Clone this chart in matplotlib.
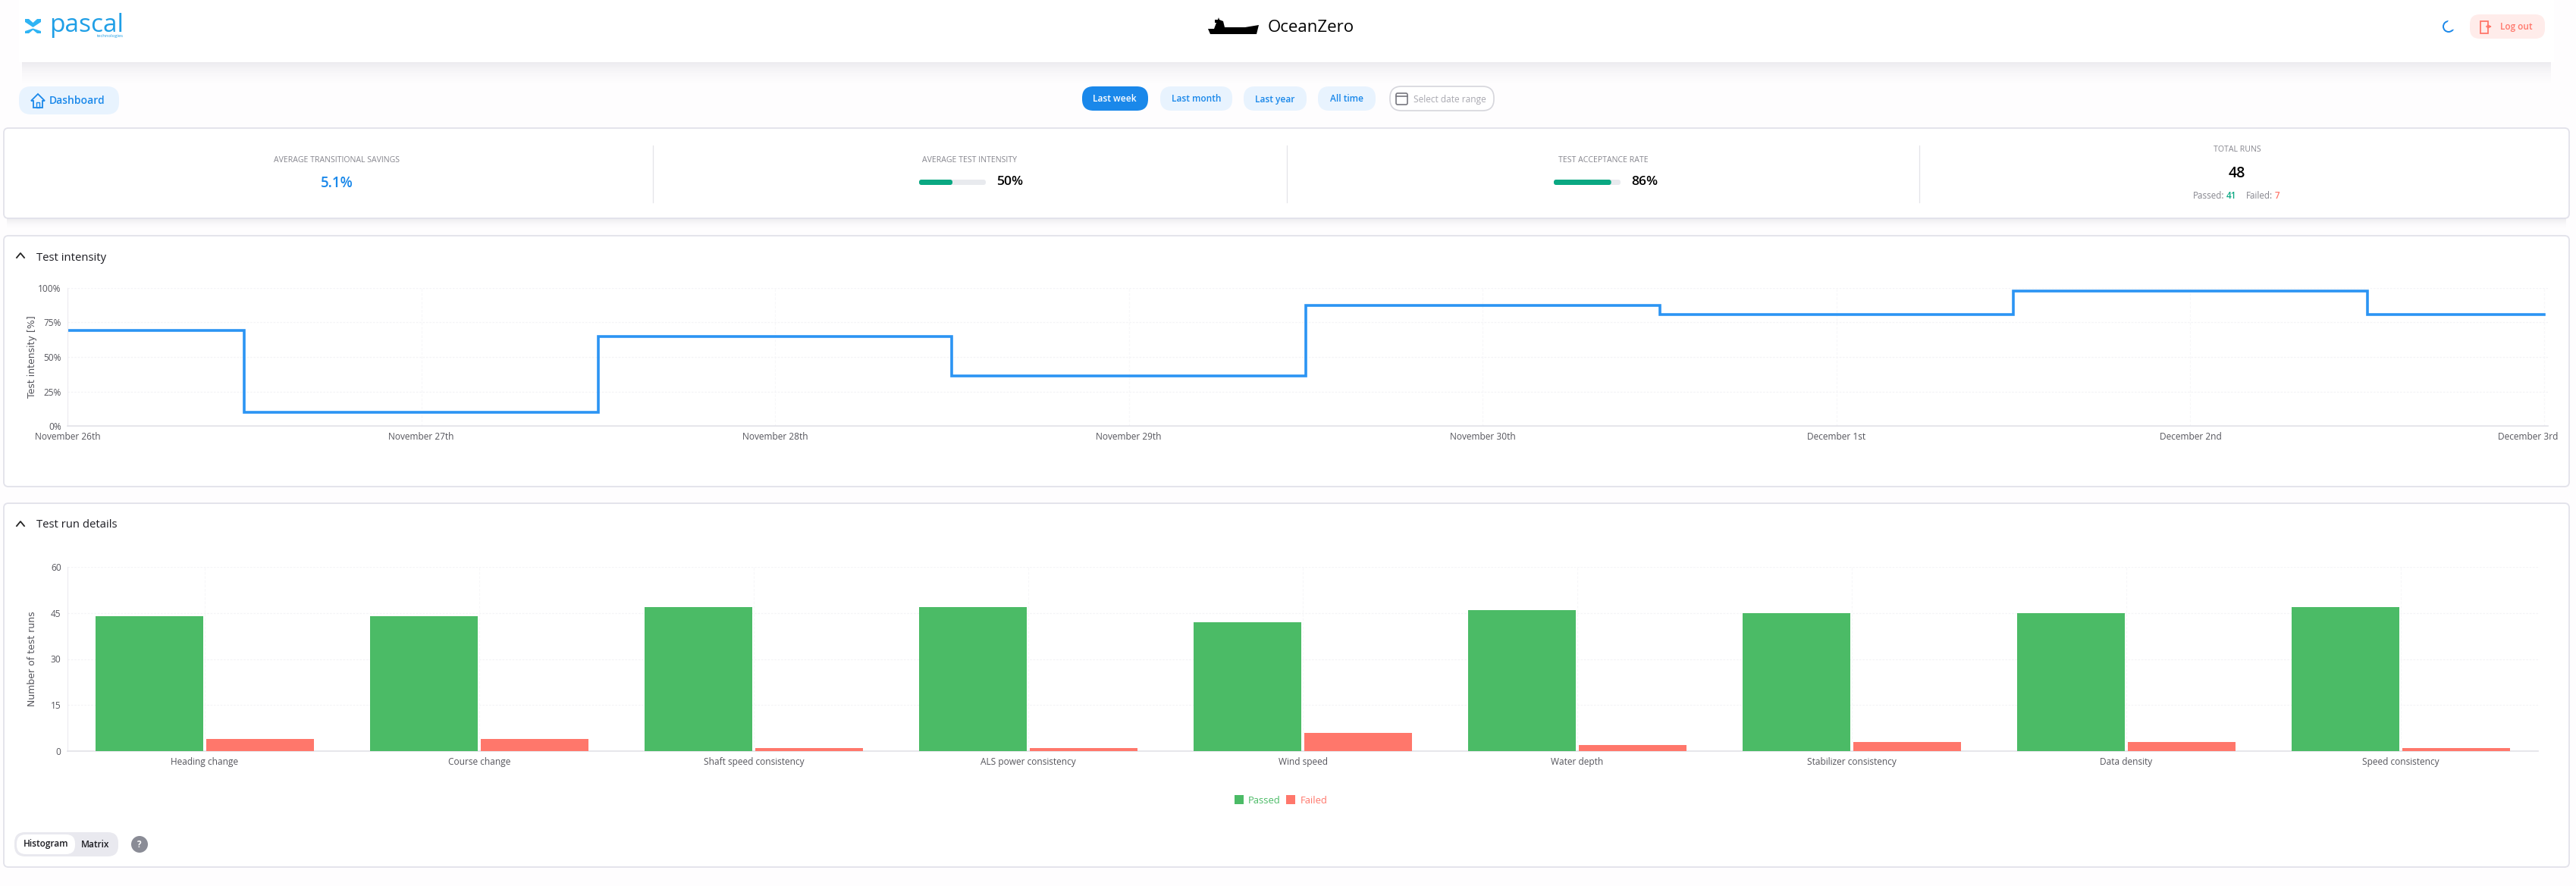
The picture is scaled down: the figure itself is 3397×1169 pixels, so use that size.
#!/usr/bin/env python3
"""OceanZero test dashboard: KPI row, test intensity step line, test run histogram."""

import matplotlib
matplotlib.use("Agg")
import matplotlib.pyplot as plt
from matplotlib.patches import Circle, FancyBboxPatch, Polygon, Rectangle
from matplotlib.transforms import ScaledTranslation

plt.rcParams["font.family"] = ["Open Sans", "DejaVu Sans"]

# Test intensity chart
days = ["November 26th", "November 27th", "November 28th", "November 29th",
        "November 30th", "December 1st", "December 2nd", "December 3rd"]
intensity = [69, 10, 65, 36, 87.5, 81, 98, 81]
intensity_ticks = [0, 25, 50, 75, 100]

# Test run chart
checks = ["Heading change", "Course change", "Shaft speed consistency",
          "ALS power consistency", "Wind speed", "Water depth",
          "Stabilizer consistency", "Data density", "Speed consistency"]
passed = [44, 44, 47, 47, 42, 46, 45, 45, 47]
failed = [4, 4, 1, 1, 6, 2, 3, 3, 1]
runs_ticks = [0, 15, 30, 45, 60]

# KPI values
avg_intensity = 50
acceptance_rate = 86

W, H = 3397, 1169
BG = "#fefdfe"
BLUE = "#1a88ea"
PALE_BLUE = "#e8f3fe"
TEAL = "#0aa882"
GREEN = "#4bbb66"
RED = "#ff776b"
LINE_BLUE = "#2b94f3"
BORDER = "#e2e2ea"
GRID = "#f4f4f7"
GREY = "#85858d"
TICK = "#55555c"

fig = plt.figure(figsize=(W / 100, H / 100), dpi=100, facecolor=BG)

# overlay in pixel coordinates for the page furniture
page = fig.add_axes([0, 0, 1, 1], zorder=0)
page.set_xlim(0, W)
page.set_ylim(H, 0)
page.axis("off")


def pill(x0, y0, x1, y1, r=None, fc="white", ec="none", lw=1.0, z=2):
    r = (y1 - y0) / 2 if r is None else r
    page.add_patch(FancyBboxPatch((x0 + r, y0 + r), x1 - x0 - 2 * r, y1 - y0 - 2 * r,
                                  boxstyle=f"round,pad={r},rounding_size={r}",
                                  fc=fc, ec=ec, lw=lw, zorder=z))


def shadow(x0, x1, y, depth, strength=0.10):
    # soft shadow under a card, stacked thin strips
    for i in range(depth):
        alpha = strength * (1 - i / depth) ** 2
        page.add_patch(Rectangle((x0 + 4, y + i), x1 - x0 - 8, 1, fc="#50506e",
                                 ec="none", alpha=alpha, zorder=1))


def label(x, y, s, size=8.5, color=TICK, ha="center", weight="normal", **kw):
    page.text(x, y, s, fontsize=size, color=color, ha=ha, va="center",
              fontweight=weight, zorder=5, **kw)


def chevron(x, y):
    page.plot([x - 5, x, x + 5], [y + 3, y - 3, y + 3], color="#222", lw=1.3, zorder=5)


def axes_px(x0, y_top, x1, y_bottom):
    ax = fig.add_axes([x0 / W, 1 - y_bottom / H, (x1 - x0) / W, (y_bottom - y_top) / H], zorder=2)
    ax.patch.set_alpha(0)
    for side in ("top", "right"):
        ax.spines[side].set_visible(False)
    ax.spines["left"].set_color("#ecebf0")
    ax.spines["bottom"].set_color("#e2e2e8")
    ax.spines["bottom"].set_linewidth(1.2)
    ax.grid(True, axis="y", color=GRID, lw=0.9, ls=(0, (2, 1.5)))
    ax.grid(True, axis="x", color="#f7f7f9", lw=0.8, ls=(0, (3, 2)))
    ax.set_axisbelow(True)
    ax.tick_params(length=0, labelsize=8.6, labelcolor=TICK, pad=6)
    return ax


# header
shadow(25, 3368, 82, 32)
page.add_patch(Rectangle((25, -5), 3343, 87, fc="white", ec="none", zorder=2))

# logo
LOGO = "#1f9fe6"
page.add_patch(Polygon([(33, 25), (38, 25), (43.5, 30), (49, 25), (54, 25), (54, 29),
                        (43.5, 36), (33, 29)], fc="#2fb4f4", ec="none", zorder=3))
page.add_patch(Polygon([(33, 44), (38, 44), (43.5, 39.5), (49, 44), (54, 44), (54, 41),
                        (43.5, 37.5), (33, 41)], fc="#2fb4f4", ec="none", zorder=3))
label(65, 34, "pascal", size=24, color=LOGO, ha="left")
label(163, 48, "technologies", size=4.2, color=LOGO, ha="right")

# ship
page.add_patch(Polygon([(1593, 38), (1601, 38), (1604, 30), (1602, 30), (1602, 26), (1606, 26),
                        (1607, 23), (1608, 26), (1613, 28), (1615, 36), (1642, 36), (1660, 33),
                        (1657, 45), (1596, 45)], fc="black", ec="none", zorder=3))
label(1672, 36, "OceanZero", size=16, color="black", ha="left")

# moon and log out
page.add_patch(Circle((3229, 35), 7, fc="none", ec=BLUE, lw=1.4, zorder=3))
page.add_patch(Circle((3234, 32), 7, fc="white", ec="none", zorder=3))
pill(3257, 19, 3356, 51, r=13, fc="#ffecea")
page.add_patch(Rectangle((3271, 28), 10, 16, fc="none", ec=RED, lw=1.3, zorder=3))
page.annotate("", xy=(3289, 35), xytext=(3276, 35),
              arrowprops=dict(arrowstyle="-|>", color=RED, lw=1.2, mutation_scale=7), zorder=4)
label(3318, 36, "Log out", size=8.5, color=RED, weight="semibold")

# nav row
pill(25, 114, 157, 151, r=16, fc=PALE_BLUE)
page.add_patch(Polygon([(41, 133), (50, 124), (59, 133), (56, 133), (56, 142), (44, 142), (44, 133)],
                       fc="none", ec=BLUE, lw=1.3, zorder=3))
page.add_patch(Rectangle((48, 135), 4, 7, fc="none", ec=BLUE, lw=1.0, zorder=3))
label(102, 133, "Dashboard", size=10, color=BLUE, weight="semibold")

pill(1427, 114, 1514, 146, r=15, fc=BLUE)
label(1470, 131, "Last week", size=8.6, color="white", weight="semibold")
for x0, x1, s in [(1530, 1625, "Last month"), (1640, 1723, "Last year"), (1738, 1814, "All time")]:
    pill(x0, 114, x1, 146, r=15, fc=PALE_BLUE)
    label((x0 + x1) / 2, 131, s, size=8.6, color=BLUE, weight="semibold")
pill(1833, 114, 1970, 146, r=15, fc="white", ec="#d6d6dc", lw=1.2)
pill(1841, 123, 1856, 138, r=2, fc="none", ec="#77777f", lw=1.2, z=3)
page.plot([1841, 1856], [127, 127], color="#77777f", lw=1.2, zorder=3)
label(1864, 131, "Select date range", size=8.6, color="#a8a8b0", ha="left")

# KPI card
shadow(5, 3388, 288, 14)
pill(5, 169, 3388, 288, r=6, fc="white", ec=BORDER, lw=1.3)
for x in (861, 1696.5, 2531):
    page.plot([x, x], [192, 267], color="#e4e4e8", lw=0.9, zorder=3)

label(444, 211, "AVERAGE TRANSITIONAL SAVINGS", size=7.6, color=GREY)
label(444, 242, "5.1%", size=13.5, color=BLUE, weight="semibold")

label(1279, 212, "AVERAGE TEST INTENSITY", size=7.6, color=GREY)
label(2114.5, 212, "TEST ACCEPTANCE RATE", size=7.6, color=GREY)
for x0, pct in [(1212, avg_intensity), (2049, acceptance_rate)]:
    pill(x0, 237, x0 + 88, 244, r=3, fc="#e8eaee", z=3)
    pill(x0, 237, x0 + 88 * pct / 100, 244, r=3, fc=TEAL, z=4)
    label(x0 + 102, 240, f"{pct}%", size=12.6, color="black", ha="left", weight="semibold")

label(2950, 198, "TOTAL RUNS", size=7.6, color=GREY)
label(2950, 229, "48", size=14, color="black", weight="semibold")
label(2892, 258, "Passed:", size=8.4, color=GREY, ha="left")
label(2936, 258, "41", size=8.4, color=TEAL, ha="left", weight="semibold")
label(2962, 258, "Failed:", size=8.4, color=GREY, ha="left")
label(3000, 258, "7", size=8.4, color=RED, ha="left", weight="semibold")

# test intensity card
pill(5, 311, 3388, 642, r=6, fc="white", ec=BORDER, lw=1.3)
chevron(27, 337)
label(48, 340, "Test intensity", size=10.7, color="#1c1c22", ha="left")

ax1 = axes_px(89, 380, 3360, 562)
ax1.plot(range(len(intensity)), intensity, drawstyle="steps-mid", color=LINE_BLUE, lw=2.6,
         solid_joinstyle="miter")
ax1.set_xlim(0, 7 * 3271 / 3266)
ax1.set_ylim(0, 100)
ax1.set_yticks(intensity_ticks)
ax1.set_yticklabels([f"{t}%" for t in intensity_ticks])
ax1.set_xticks(range(len(days)))
ax1.set_xticklabels(days)
ax1.set_ylabel("Test intensity [%]", fontsize=9, color=TICK, family="DejaVu Sans")
ax1.yaxis.set_label_coords(-40 / 3271, 0.5)
# last date label is pushed back inside the card
last = ax1.get_xticklabels()[-1]
last.set_transform(last.get_transform() + ScaledTranslation(-0.21, 0, fig.dpi_scale_trans))

# test run card
pill(5, 664, 3388, 1144, r=6, fc="white", ec=BORDER, lw=1.3)
chevron(27, 691)
label(48, 693, "Test run details", size=10.7, color="#1c1c22", ha="left")

ax2 = axes_px(89, 748, 3347, 991)
bar_w = 0.392
xs = list(range(len(checks)))
ax2.bar([x - 0.202 for x in xs], passed, width=bar_w, color=GREEN, label="Passed", zorder=3)
ax2.bar([x + 0.202 for x in xs], failed, width=bar_w, color=RED, label="Failed", zorder=3)
ax2.set_xlim(-0.5, len(checks) - 0.5)
ax2.set_ylim(0, 60)
ax2.set_yticks(runs_ticks)
ax2.set_xticks(xs)
ax2.set_xticklabels(checks)
ax2.set_ylabel("Number of test runs", fontsize=9, color=TICK, family="DejaVu Sans")
ax2.yaxis.set_label_coords(-40 / 3258, 0.5)
ax2.legend(loc="center", bbox_to_anchor=(1689 / W, 1 - 1056 / H), bbox_transform=fig.transFigure,
           ncol=2, frameon=False, fontsize=9.4, labelcolor=[GREEN, RED], handlelength=0.95,
           handleheight=1.0, handletextpad=0.45, columnspacing=0.55)

# view switch
pill(19, 1098, 156, 1130, r=14, fc="#e9e9ef")
pill(22, 1101, 99, 1127, r=12, fc="white", z=3)
label(61, 1114, "Histogram", size=8.6, color="#1c1c22", weight="semibold")
label(126, 1114, "Matrix", size=8.6, color="#1c1c22", weight="semibold")
page.add_patch(Circle((184, 1114), 11, fc="#8a8c96", ec="none", zorder=3))
label(184, 1114, "?", size=8.5, color="white", weight="bold")

fig.savefig("out.png", dpi=100, facecolor=BG)
